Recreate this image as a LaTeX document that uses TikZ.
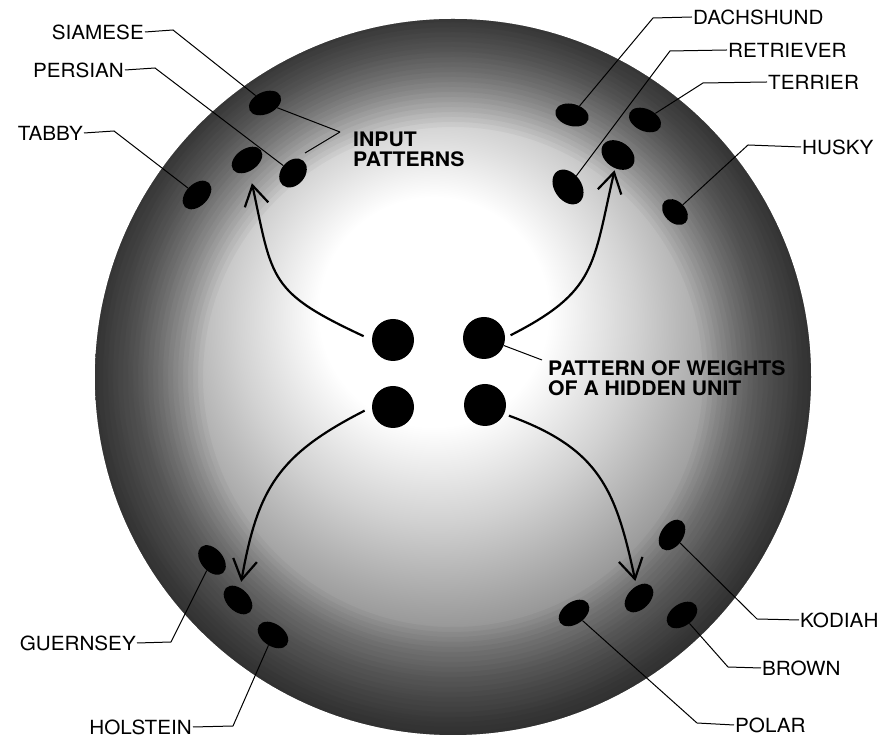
\documentclass[tikz,border=0pt]{standalone}
\usepackage{fontspec}
\setmainfont{TeX Gyre Heros}[FakeStretch=1.06]
\usetikzlibrary{arrows.meta,shapes.geometric}
\pgfdeclareradialshading{spheresh}{\pgfpoint{-1.6bp}{5.4bp}}{color(0bp)=(white); color(8bp)=(white); color(14bp)=(black!18); color(22bp)=(black!45); color(30bp)=(black!55); color(50bp)=(black!55)}
\begin{document}
\begin{tikzpicture}[x=1pt,y=1pt,
  blob/.style={ellipse, fill=black, minimum width=34pt, minimum height=22pt, inner sep=0pt},
  unit/.style={circle, fill=black, minimum size=42pt, inner sep=0pt},
  lab/.style={font=\fontsize{19.5}{22}\selectfont, inner sep=1pt},
  blab/.style={font=\fontsize{20}{20}\selectfont\bfseries, align=left, inner sep=0pt},
  lead/.style={line width=1pt},
  arr/.style={line width=2.2pt, -{Straight Barb[length=20pt,width=24pt]}}]
\useasboundingbox (0,0) rectangle (879,749);
\fill[white] (0,0) rectangle (879,749);
\shade[shading=spheresh] (453,372) circle (358);
\foreach \r in {250,255,...,355}
  \fill[black, opacity=0.035, even odd rule] (453,372) circle (358) circle (\r);
% hidden unit
\node[unit] (dotTL) at (393,409) {};
\node[unit] (dotTR) at (484,411) {};
\node[unit] (dotBL) at (393,342) {};
\node[unit] (dotBR) at (485,344) {};
% cats
\node[blob, rotate=25] (siamese) at (265,646) {};
\node[blob, rotate=35] (catmid) at (247,589) {};
\node[blob, rotate=50, minimum width=32pt, minimum height=24pt] (persian) at (293,576) {};
\node[blob, rotate=45] (tabby) at (197,554) {};
% dogs
\node[blob, rotate=-15] (dachshund) at (572,634) {};
\node[blob, rotate=-25] (terrier) at (645,629) {};
\node[blob, rotate=-55, minimum width=38pt, minimum height=27pt] (retriever) at (568,562) {};
\node[blob, rotate=-35, minimum width=36pt, minimum height=26pt] (dogmid) at (618,594) {};
\node[blob, rotate=-45, minimum width=30pt, minimum height=21pt] (husky) at (675,537) {};
% cows
\node[blob, rotate=-50] (guernsey) at (212,189) {};
\node[blob, rotate=-45] (cowmid) at (238,149) {};
\node[blob, rotate=-35] (holstein) at (273,114) {};
% bears
\node[blob, rotate=55] (kodiak) at (672,214) {};
\node[blob, rotate=45] (bearmid) at (639,151) {};
\node[blob, rotate=35] (brown) at (682,134) {};
\node[blob, rotate=35] (polar) at (574,136) {};
% labels
\node[lab, anchor=east] (siameseL) at (145,717) {SIAMESE};
\node[lab, anchor=east] (persianL) at (125,679) {PERSIAN};
\node[lab, anchor=east] (tabbyL) at (84,616) {TABBY};
\node[lab, anchor=west] (dachshundL) at (692,732) {DACHSHUND};
\node[lab, anchor=west] (retrieverL) at (727,699) {RETRIEVER};
\node[lab, anchor=west] (terrierL) at (767,667) {TERRIER};
\node[lab, anchor=west] (huskyL) at (801,602) {HUSKY};
\node[lab, anchor=east] (guernseyL) at (137,106) {GUERNSEY};
\node[lab, anchor=east] (holsteinL) at (193,22) {HOLSTEIN};
\node[lab, anchor=west] (kodiakL) at (799,129) {KODIAH};
\node[lab, anchor=west] (brownL) at (761,81) {BROWN};
\node[lab, anchor=west] (polarL) at (734,24) {POLAR};
\node[blab, anchor=north west] (ipL) at (353,617) {INPUT\\PATTERNS};
\node[blab, anchor=north west] (hidL) at (548,389) {PATTERN OF WEIGHTS\\OF A HIDDEN UNIT};
% leaders
\draw[lead] (siameseL.east) -- ++(28,2) -- (siamese);
\draw[lead] (persianL.east) -- ++(30,2) -- (persian);
\draw[lead] (tabbyL.east) -- ++(30,2) -- (tabby);
\draw[lead] (dachshundL.west) -- ++(-39,-1) -- (dachshund);
\draw[lead] (retrieverL.west) -- ++(-57,-1) -- (retriever);
\draw[lead] (terrierL.west) -- ++(-64,-1) -- (terrier);
\draw[lead] (huskyL.west) -- ++(-53,2) -- (husky);
\draw[lead] (guernseyL.east) -- ++(34,1) -- (guernsey);
\draw[lead] (holsteinL.east) -- ++(40,1) -- (holstein);
\draw[lead] (kodiakL.west) -- ++(-42,1) -- (kodiak);
\draw[lead] (brownL.west) -- ++(-33,1) -- (brown);
\draw[lead] (polarL.west) -- ++(-37,2) -- (polar);
\coordinate (ipV) at (340,617);
\coordinate (ipB) at (305,596);
\draw[lead] (ipV) -- (siamese);
\draw[lead] (ipV) -- (ipB);
\coordinate (hidA) at (542,389);
\draw[lead] (dotTR) -- (hidA);
% arrows
\draw[arr, shorten <=9pt, shorten >=12pt] (dotTL.west) to[out=155, in=-81, looseness=1.4] (catmid);
\draw[arr, shorten <=6pt, shorten >=2pt] (dotTR.east) to[out=27, in=-99, looseness=1.3] (dogmid);
\draw[arr, shorten <=8pt, shorten >=6pt] (dotBL.west) to[out=207, in=84, looseness=1.2] (cowmid);
\draw[arr, shorten <=5pt, shorten >=5pt] (dotBR.-25) to[out=-20, in=98, looseness=1.2] (bearmid);
\end{tikzpicture}
\end{document}
